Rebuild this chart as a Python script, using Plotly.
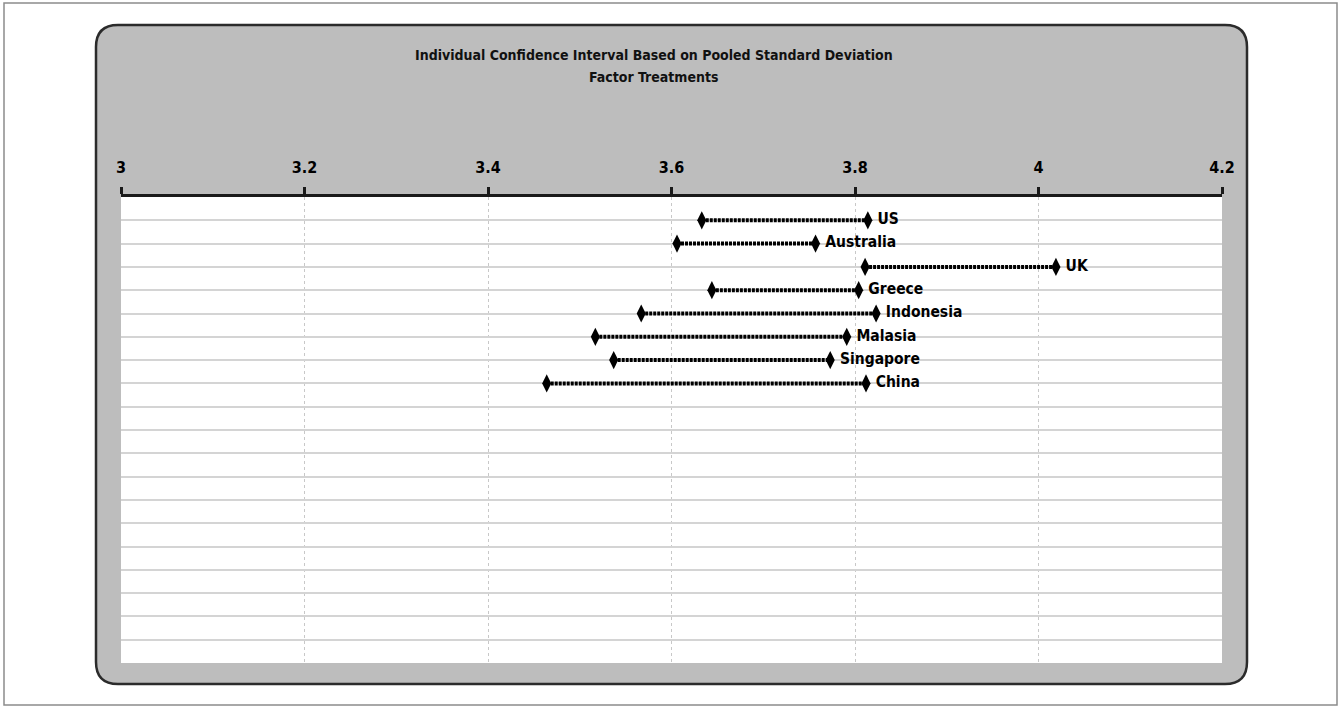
import plotly.graph_objects as go

# Confidence interval bounds per country (pooled standard deviation)
countries = ["US", "Australia", "UK", "Greece", "Indonesia", "Malasia", "Singapore", "China"]
lower = [3.633, 3.606, 3.811, 3.644, 3.567, 3.517, 3.537, 3.464]
upper = [3.814, 3.757, 4.019, 3.804, 3.823, 3.791, 3.773, 3.812]
rows = [1, 2, 3, 4, 5, 6, 7, 8]
x_ticks = [3, 3.2, 3.4, 3.6, 3.8, 4, 4.2]
x_tick_text = ["3", "3.2", "3.4", "3.6", "3.8", "4", "4.2"]

FONT = "DejaVu Sans Condensed, Liberation Sans Narrow, Roboto, sans-serif"

fig = go.Figure()

for name, lo, hi, r in zip(countries, lower, upper, rows):
    fig.add_trace(go.Scatter(
        x=[lo, hi], y=[r, r], mode="lines",
        line=dict(color="black", width=4, dash="3px,1px"),
        hoverinfo="skip", showlegend=False,
    ))
    fig.add_trace(go.Scatter(
        x=[lo, hi], y=[r, r], mode="markers",
        marker=dict(symbol="diamond-tall", size=13, color="black"),
        name=name, showlegend=False,
    ))

fig.add_trace(go.Scatter(
    x=upper, y=rows, mode="text", text=countries,
    textposition="middle right",
    texttemplate="  %{text}",
    textfont=dict(family=FONT, size=15.5, color="black", weight="bold"),
    hoverinfo="skip", showlegend=False,
))

# Plot-area geometry in pixels, used to place the panel decorations
W, H = 1340, 707
L, R, T, B = 121, 1222, 197, 663
pw, ph = R - L, B - T


def px(x):
    return (x - L) / pw


def py(y):
    return (B - y) / ph


def rounded_rect(x0, y0, x1, y1, r):
    rx, ry = r / pw, r / ph
    a, b = px(x0), px(x1)
    top, bot = py(y0), py(y1)
    return (f"M {a + rx},{top} L {b - rx},{top} Q {b},{top} {b},{top - ry} "
            f"L {b},{bot + ry} Q {b},{bot} {b - rx},{bot} "
            f"L {a + rx},{bot} Q {a},{bot} {a},{bot + ry} "
            f"L {a},{top - ry} Q {a},{top} {a + rx},{top} Z")


shapes = [
    dict(type="rect", xref="paper", yref="paper",
         x0=px(4), x1=px(1337), y0=py(705), y1=py(3),
         line=dict(color="#8c8c8c", width=1.5), fillcolor="white", layer="below"),
    dict(type="path", xref="paper", yref="paper",
         path=rounded_rect(96, 25, 1247, 684, 22),
         line=dict(color="#2b2b2b", width=2.5), fillcolor="#bdbdbd", layer="below"),
    dict(type="rect", xref="paper", yref="paper",
         x0=0, x1=1, y0=0, y1=1,
         line=dict(width=0), fillcolor="white", layer="below"),
]

annotations = [
    dict(text="<b>Individual Confidence Interval Based on Pooled Standard Deviation</b>",
         xref="paper", yref="paper", x=px(654), y=py(55), showarrow=False,
         xanchor="center", yanchor="middle",
         font=dict(family=FONT, size=14, color="#111")),
    dict(text="<b>Factor Treatments</b>",
         xref="paper", yref="paper", x=px(654), y=py(77), showarrow=False,
         xanchor="center", yanchor="middle",
         font=dict(family=FONT, size=14, color="#111")),
]

fig.update_layout(
    width=W, height=H,
    margin=dict(l=L, r=W - R, t=T, b=H - B),
    paper_bgcolor="white", plot_bgcolor="white",
    shapes=shapes, annotations=annotations,
    xaxis=dict(
        range=[3, 4.2], side="top", tickvals=x_ticks, ticktext=x_tick_text,
        showline=True, linecolor="#1a1a1a", linewidth=2.5,
        ticks="outside", ticklen=7, tickwidth=2.5, tickcolor="#1a1a1a",
        ticklabelstandoff=8,
        tickfont=dict(family=FONT, size=16, color="black", weight="bold"),
        showgrid=True, gridcolor="#c8c8c8", griddash="dot", gridwidth=1,
        zeroline=False, fixedrange=True,
    ),
    yaxis=dict(
        range=[20, 0], tickvals=list(range(1, 20)), showticklabels=False,
        showgrid=True, gridcolor="#d4d4d4", gridwidth=1.5,
        zeroline=False, showline=False, ticks="", fixedrange=True,
    ),
)

fig.write_html("out.html")
